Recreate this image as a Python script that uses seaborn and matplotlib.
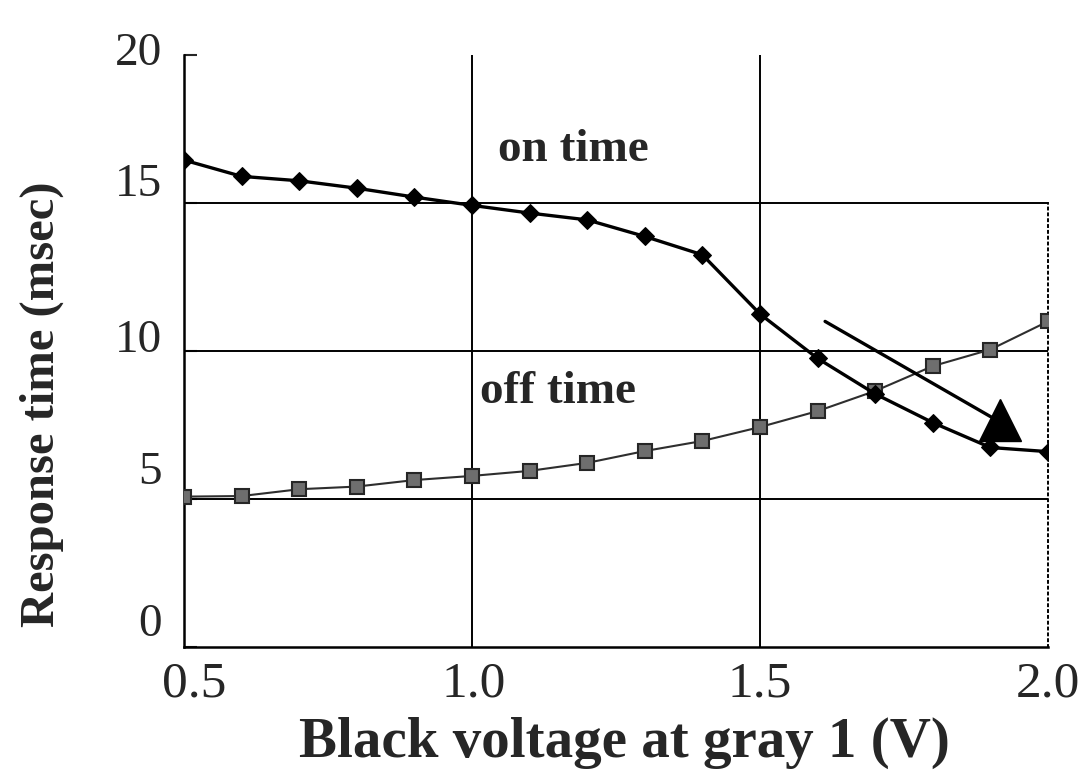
import matplotlib
matplotlib.use("Agg")
import matplotlib.pyplot as plt
import matplotlib.transforms as mtransforms
import seaborn as sns
import pandas as pd

# ---- data ----
voltage = [0.5, 0.6, 0.7, 0.8, 0.9, 1.0, 1.1, 1.2, 1.3, 1.4, 1.5, 1.6, 1.7, 1.8, 1.9, 2.0]
on_time = [16.45, 15.9, 15.75, 15.5, 15.2, 14.92, 14.66, 14.43, 13.87, 13.25, 11.25, 9.75, 8.55, 7.58, 6.74, 6.6]
off_time = [5.08, 5.1, 5.33, 5.42, 5.64, 5.78, 5.95, 6.22, 6.62, 6.96, 7.43, 7.97, 8.65, 9.49, 10.05, 11.0]
x_ticks = [0.5, 1.0, 1.5, 2.0]
x_ticklabels = ["0.5", "1.0", "1.5", "2.0"]
y_ticks = [0, 5, 10, 15, 20]
y_ticklabels = ["0", "5", "10", "15", "20"]
h_grid = [5, 10, 15]
v_grid = [1.0, 1.5]
arrow_start = (1.613, 11.0)
arrow_end = (1.93, 7.45)
arrow_head = (1.917, 7.66)
on_label_pos = (1.176, 16.8)
off_label_pos = (1.15, 8.6)

# label nudges (pixels) as seen in the scanned reference
y_label_shift = [27, 31, 15, 23, 6]
x_label_shift = [10, 2, 0, 0]

sns.set_theme(style="white")
plt.rcParams["font.family"] = ["Liberation Serif", "DejaVu Serif"]

df = pd.DataFrame({"voltage": voltage, "on": on_time, "off": off_time})

fig = plt.figure(figsize=(10.86, 7.79), dpi=100)
ax = fig.add_axes([184 / 1086, 1 - 647 / 779, (1048 - 184) / 1086, (647 - 55) / 779])

# grid
for g in h_grid:
    ax.axhline(g, color="black", lw=1.4, zorder=1)
for g in v_grid:
    ax.axvline(g, color="black", lw=1.4, zorder=1)

sns.lineplot(data=df, x="voltage", y="off", ax=ax, color="#2e2e2e", lw=1.5,
             marker="s", markersize=10, markerfacecolor="#6e6e6e",
             markeredgecolor="#262626", markeredgewidth=1.5, zorder=3)
sns.lineplot(data=df, x="voltage", y="on", ax=ax, color="black", lw=2.4,
             marker="D", markersize=9, markerfacecolor="black",
             markeredgecolor="black", zorder=4)

# arrow
ax.plot([arrow_start[0], arrow_end[0]], [arrow_start[1], arrow_end[1]],
        color="black", lw=2.4, zorder=5)
ax.plot([arrow_head[0]], [arrow_head[1]], marker="^", markersize=30,
        color="black", zorder=6)

ax.text(*on_label_pos, "on time", fontsize=34, fontweight="bold", ha="center", va="center")
ax.text(*off_label_pos, "off time", fontsize=34, fontweight="bold", ha="center", va="center")

ax.set_xlim(0.5, 2.0)
ax.set_ylim(0, 20)
ax.set_xticks(x_ticks)
ax.set_xticklabels(x_ticklabels)
ax.set_yticks(y_ticks)
ax.set_yticklabels(y_ticklabels)
ax.tick_params(axis="y", direction="in", length=9, width=1.5, labelsize=34, pad=16, left=True)
ax.tick_params(axis="x", length=0, labelsize=37, pad=10)

for lab, dy in zip(ax.get_yticklabels(), y_label_shift):
    lab.set_transform(lab.get_transform() + mtransforms.ScaledTranslation(0, dy / 100, fig.dpi_scale_trans))
for lab, dx in zip(ax.get_xticklabels(), x_label_shift):
    lab.set_transform(lab.get_transform() + mtransforms.ScaledTranslation(dx / 100, 0, fig.dpi_scale_trans))

ax.spines["top"].set_visible(False)
ax.spines["right"].set_bounds(0, 15)
ax.spines["right"].set_linestyle((0, (1, 2)))
ax.spines["right"].set_linewidth(1.4)
ax.spines["right"].set_color("black")
for s in ["left", "bottom"]:
    ax.spines[s].set_linewidth(1.8)
    ax.spines[s].set_color("black")

ax.set_xlabel("Black voltage at gray 1 (V)", fontsize=41, fontweight="bold")
ax.xaxis.set_label_coords(0.51, -0.118)
ax.xaxis.label.set_va("top")
ax.set_ylabel("Response time (msec)", fontsize=35, fontweight="bold")
ax.yaxis.set_label_coords(-0.139, 0.41)

fig.savefig("out.png", dpi=100)
